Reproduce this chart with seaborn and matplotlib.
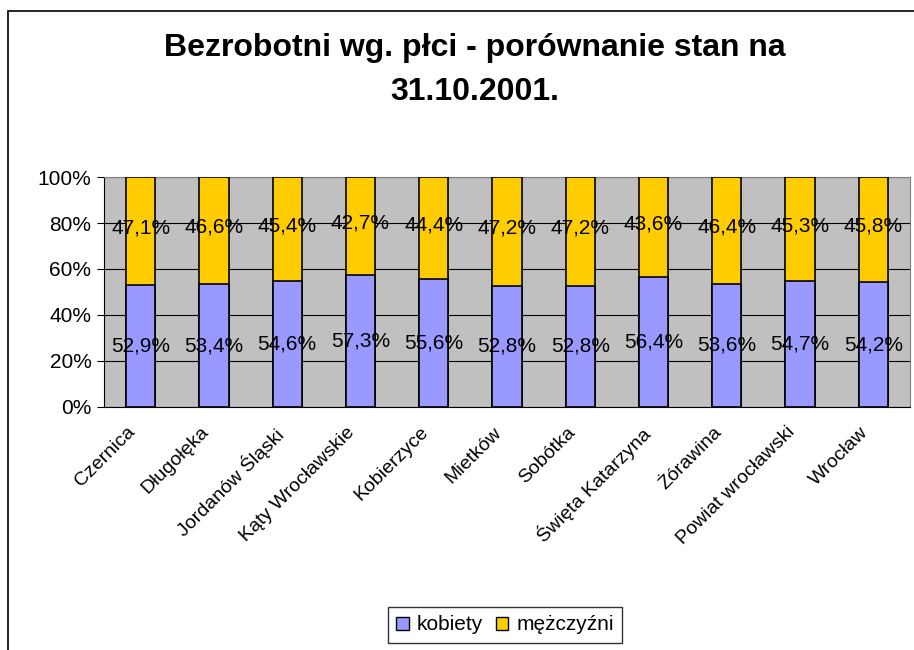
import matplotlib
matplotlib.use("Agg")
import matplotlib.pyplot as plt
import matplotlib.patches as mpatches
import matplotlib.transforms as mtransforms
import pandas as pd
import seaborn as sns

sns.set_style("white")
plt.rcParams['font.family'] = ['Liberation Sans', 'DejaVu Sans']
plt.rcParams['text.color'] = 'black'
plt.rcParams['xtick.color'] = 'black'
plt.rcParams['ytick.color'] = 'black'

# data
gminy = ['Czernica', 'Długołęka', 'Jordanów Śląski', 'Kąty Wrocławskie', 'Kobierzyce',
         'Mietków', 'Sobótka', 'Święta Katarzyna', 'Żórawina', 'Powiat wrocławski', 'Wrocław']
kobiety = [52.9, 53.4, 54.6, 57.3, 55.6, 52.8, 52.8, 56.4, 53.6, 54.7, 54.2]
mezczyzni = [47.1, 46.6, 45.4, 42.7, 44.4, 47.2, 47.2, 43.6, 46.4, 45.3, 45.8]
yticks = [0, 20, 40, 60, 80, 100]

df = pd.DataFrame({'gmina': gminy, 'kobiety': kobiety, 'mezczyzni': mezczyzni})
df['razem'] = df['kobiety'] + df['mezczyzni']

fig = plt.figure(figsize=(9.14, 6.5), dpi=100)
# outer chart frame
fig.patches.append(mpatches.Rectangle((8 / 914, -0.1), 1.0, 1 - 11 / 650 + 0.1,
                                      transform=fig.transFigure, fill=False,
                                      edgecolor='black', linewidth=1.2))

ax = fig.add_axes([104 / 914, 1 - 407 / 650, (910 - 104) / 914, (407 - 177) / 650])
ax.set_facecolor('#C0C0C0')

sns.barplot(data=df, x='gmina', y='razem', color='#FFCC00', width=0.4,
            edgecolor='black', linewidth=1.2, ax=ax, zorder=3, saturation=1)
sns.barplot(data=df, x='gmina', y='kobiety', color='#9999FF', width=0.4,
            edgecolor='black', linewidth=1.2, ax=ax, zorder=3, saturation=1)

for i, row in df.iterrows():
    ax.text(i, row['kobiety'] / 2, f"{row['kobiety']:.1f}%".replace('.', ','),
            ha='center', va='center', fontsize=15, zorder=4)
    ax.text(i, row['kobiety'] + row['mezczyzni'] / 2 + 1.5,
            f"{row['mezczyzni']:.1f}%".replace('.', ','),
            ha='center', va='center', fontsize=15, zorder=4)

ax.set_ylim(0, 100)
ax.set_xlim(-0.5, len(gminy) - 0.5)
ax.set_yticks(yticks)
ax.set_yticklabels([f'{t}%' for t in yticks], fontsize=15)
ax.yaxis.grid(True, color='black', linewidth=0.8)
ax.set_axisbelow(True)
ax.set_xlabel('')
ax.set_ylabel('')

ax.set_xticks(range(len(gminy)))
ax.set_xticklabels(gminy, rotation=45, ha='right', rotation_mode='anchor', fontsize=14)
ax.tick_params(axis='x', length=0, pad=12)
# shift labels a bit left, Excel anchors the rotated box corner at the tick
shift = mtransforms.ScaledTranslation(-0.14, 0, fig.dpi_scale_trans)
for lab in ax.get_xticklabels():
    lab.set_transform(lab.get_transform() + shift)
# category separators as minor ticks, like Excel
ax.set_xticks([i - 0.5 for i in range(len(gminy) + 1)], minor=True)
ax.tick_params(axis='x', which='minor', length=5, color='black', direction='out')
ax.tick_params(axis='y', length=5, color='black', direction='out', left=True, pad=4)

for side in ['top', 'right']:
    ax.spines[side].set_color('#808080')
for side in ['left', 'bottom']:
    ax.spines[side].set_color('black')

fig.text(475 / 914, 1 - 70 / 650, 'Bezrobotni wg. płci - porównanie stan na\n31.10.2001.',
         ha='center', va='center', fontsize=23, fontweight='bold', linespacing=1.6)

handles = [mpatches.Patch(facecolor='#9999FF', edgecolor='black', label='kobiety'),
           mpatches.Patch(facecolor='#FFCC00', edgecolor='black', label='mężczyźni')]
fig.legend(handles=handles, loc='center', bbox_to_anchor=(505 / 914, 1 - 625 / 650),
           ncol=2, fontsize=15, frameon=True, fancybox=False, edgecolor='black',
           handlelength=0.6, handleheight=0.6, handletextpad=0.4, columnspacing=0.6,
           borderpad=0.4)

fig.savefig('out.png', dpi=100)
